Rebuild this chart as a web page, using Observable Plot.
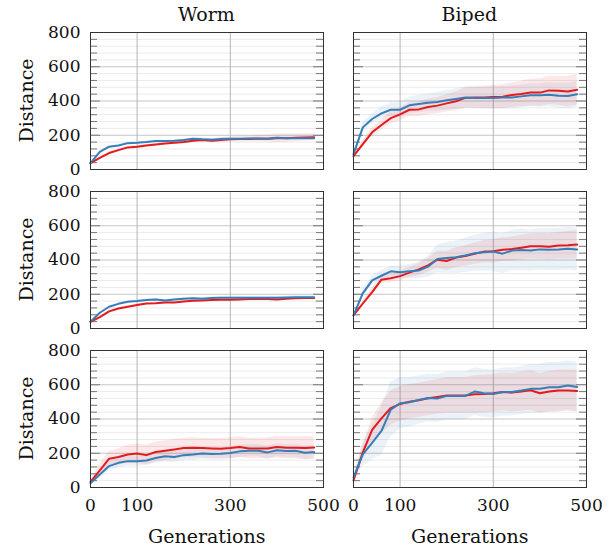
<!DOCTYPE html>
<html>
<head>
<meta charset="utf-8">
<script src="https://cdn.jsdelivr.net/npm/d3@7"></script>
<script src="https://cdn.jsdelivr.net/npm/@observablehq/plot@0.6"></script>
<style>
  html, body { margin: 0; padding: 0; background: #fff; }
  #root { position: relative; width: 613px; height: 550px; font-family: "DejaVu Serif", serif; color: #111; }
  .lbl { position: absolute; font-size: 19px; white-space: nowrap; line-height: 1; }
  .panel { position: absolute; }
</style>
</head>
<body>
<div id="root"></div>
<script>
// ---------- data ----------
const columns = ["Worm", "Biped"];
const xLabel = "Generations";
const yLabel = "Distance";
const gens = [0,20,40,60,80,100,120,140,160,180,200,220,240,260,280,300,320,340,360,380,400,420,440,460,480];
const xTickValues = [0,100,300,500];
const yTickValues = [0,200,400,600,800];
const yMajorGrid = [200,400,600];
const yMinorGrid = [40,80,120,160,240,280,320,360,440,480,520,560,640,680,720,760];
const xMajorGrid = [100,300];

// Row 1
const worm1Red    = [37,68,96,113,129,133,140,146,152,156,160,168,172,168,172,176,178,178,180,180,183,183,185,187,189];
const worm1RedSd  = [3,5,6,6,6,7,7,8,8,9,9,10,12,12,14,14,16,16,18,20,25,25,22,22,20];
const worm1Blue   = [37,103,133,140,154,156,160,166,166,168,172,180,176,174,178,180,180,181,181,180,185,183,183,183,183];
const worm1BlueSd = [3,5,5,5,5,5,5,5,5,5,6,6,6,6,6,6,6,7,7,7,7,7,7,7,7];
const biped1Red    = [78,148,217,260,300,322,349,351,365,373,386,398,418,420,421,423,425,435,441,449,449,462,460,455,466];
const biped1RedSd  = [5,20,25,30,35,38,40,42,45,48,50,55,60,62,65,68,70,72,75,78,80,82,85,88,90];
const biped1Blue   = [90,246,295,328,349,349,375,382,390,394,404,412,420,418,418,418,420,421,427,433,433,437,431,429,439];
const biped1BlueSd = [5,25,30,35,40,45,48,50,52,55,58,60,62,62,63,64,65,66,66,67,68,70,72,74,75];
// Row 2
const worm2Red    = [39,66,100,117,127,137,146,148,152,152,158,162,164,166,168,168,170,172,172,172,170,174,176,178,178];
const worm2RedSd  = [2,4,5,5,5,5,5,5,5,5,5,6,6,6,6,6,6,6,6,6,6,7,7,7,7];
const worm2Blue   = [39,92,127,144,156,160,166,170,164,170,174,176,174,178,180,180,180,180,180,180,180,181,183,183,183];
const worm2BlueSd = [2,5,6,6,6,6,6,6,6,6,7,7,7,7,7,7,7,7,7,7,7,8,8,8,8];
const biped2Red    = [76,146,213,285,293,306,326,345,369,402,394,414,423,437,449,451,460,464,472,480,480,478,484,486,490];
const biped2RedSd  = [5,15,20,22,25,28,30,35,40,50,55,58,60,62,65,68,68,70,72,74,75,76,78,80,82];
const biped2Blue   = [76,205,281,308,334,328,334,338,361,406,412,416,427,439,445,449,437,455,459,455,462,460,462,466,462];
const biped2BlueSd = [5,18,25,30,30,35,40,48,60,80,90,95,100,105,110,115,116,118,120,120,122,122,124,125,125];
// Row 3
const worm3Red    = [33,100,168,178,193,199,189,207,215,222,230,232,230,228,226,230,236,228,228,228,236,232,232,230,234];
const worm3RedSd  = [5,38,42,48,52,57,58,58,58,58,58,58,58,58,58,60,60,60,60,62,62,64,65,66,66];
const worm3Blue   = [25,76,125,144,154,154,158,172,183,178,189,193,199,195,197,201,211,215,215,205,217,213,215,203,207];
const worm3BlueSd = [5,20,25,28,28,30,30,30,32,32,32,34,34,35,35,35,36,36,36,38,38,38,38,40,40];
const biped3Red    = [41,205,336,404,464,488,501,509,521,529,537,537,537,544,546,550,558,554,560,568,550,560,566,566,564];
const biped3RedSd  = [10,40,70,90,100,100,100,100,100,100,105,105,105,110,110,110,110,112,115,115,115,118,120,120,120];
const biped3Blue   = [57,193,261,330,455,492,498,511,523,519,535,535,535,560,550,546,558,558,566,576,576,585,585,595,587];
const biped3BlueSd = [10,70,100,140,160,150,145,140,140,140,140,140,140,140,140,140,140,140,140,142,142,145,145,145,145];

const RED = "#e41a1c";
const BLUE = "#377eb8";

const panels = [
  {row:0, col:0, red:worm1Red,  redSd:worm1RedSd,  blue:worm1Blue,  blueSd:worm1BlueSd},
  {row:0, col:1, red:biped1Red, redSd:biped1RedSd, blue:biped1Blue, blueSd:biped1BlueSd},
  {row:1, col:0, red:worm2Red,  redSd:worm2RedSd,  blue:worm2Blue,  blueSd:worm2BlueSd},
  {row:1, col:1, red:biped2Red, redSd:biped2RedSd, blue:biped2Blue, blueSd:biped2BlueSd},
  {row:2, col:0, red:worm3Red,  redSd:worm3RedSd,  blue:worm3Blue,  blueSd:worm3BlueSd},
  {row:2, col:1, red:biped3Red, redSd:biped3RedSd, blue:biped3Blue, blueSd:biped3BlueSd},
];

// ---------- layout ----------
const root = document.getElementById("root");
const rowTops = [32, 191, 350];
const frameH = 137;
const colSpec = [
  {left: 0,   width: 330, ml: 90, mr: 7},
  {left: 330, width: 283, ml: 23, mr: 27}
];
const mt = 10;

function series(vals, sds) {
  return gens.map((g, i) => ({g, v: vals[i], lo: vals[i] - sds[i], hi: vals[i] + sds[i]}));
}

for (const p of panels) {
  const c = colSpec[p.col];
  const bottom = p.row === 2;
  const mb = bottom ? 40 : 4;
  const innerW = c.width - c.ml - c.mr;
  const red = series(p.red, p.redSd);
  const blue = series(p.blue, p.blueSd);
  const marks = [
    Plot.ruleY(yMinorGrid, {stroke: "#ebebeb"}),
    Plot.ruleY(yMajorGrid, {stroke: "#c6c6c6"}),
    Plot.ruleX(xMajorGrid, {stroke: "#b4b4b4"}),
    Plot.tickY(yMinorGrid, {stroke: "#777", insetRight: innerW - 7}),
    Plot.tickY(yMinorGrid, {stroke: "#777", insetLeft: innerW - 7}),
    Plot.tickY(yMajorGrid, {stroke: "#777", insetRight: innerW - 10}),
    Plot.tickY(yMajorGrid, {stroke: "#777", insetLeft: innerW - 10}),
    Plot.areaY(blue, {x: "g", y1: "lo", y2: "hi", fill: BLUE, fillOpacity: 0.1}),
    Plot.areaY(red, {x: "g", y1: "lo", y2: "hi", fill: RED, fillOpacity: 0.1}),
    Plot.lineY(red, {x: "g", y: "v", stroke: RED, strokeWidth: 2}),
    Plot.lineY(blue, {x: "g", y: "v", stroke: BLUE, strokeWidth: 2}),
    Plot.frame({stroke: "#333"})
  ];
  if (p.col === 0) marks.push(Plot.axisY(yTickValues, {tickSize: 0, tickPadding: 10, label: null}));
  if (bottom) marks.push(Plot.axisX(xTickValues, {tickSize: 0, tickPadding: 11, label: null}));
  const svg = Plot.plot({
    width: c.width,
    height: frameH + mt + mb,
    marginLeft: c.ml, marginRight: c.mr, marginTop: mt, marginBottom: mb,
    style: {fontFamily: "'DejaVu Serif', serif", fontSize: "17px", color: "#111", background: "transparent", overflow: "visible"},
    x: {domain: [0, 500], axis: null},
    y: {domain: [0, 800], axis: null},
    marks
  });
  svg.classList.add("panel");
  svg.style.left = c.left + "px";
  svg.style.top = (rowTops[p.row] - mt) + "px";
  root.appendChild(svg);
}

function addLabel(text, cx, cy, rotate) {
  const d = document.createElement("div");
  d.className = "lbl";
  d.textContent = text;
  root.appendChild(d);
  const w = d.offsetWidth, h = d.offsetHeight;
  d.style.left = (cx - w / 2) + "px";
  d.style.top = (cy - h / 2) + "px";
  if (rotate) d.style.transform = "rotate(-90deg)";
}

columns.forEach((name, i) => {
  const c = colSpec[i];
  const cx = c.left + c.ml + (c.width - c.ml - c.mr) / 2;
  addLabel(name, cx, 14, false);
  addLabel(xLabel, cx, 536, false);
});
rowTops.forEach(t => addLabel(yLabel, 26, t + frameH / 2, true));
</script>
</body>
</html>
